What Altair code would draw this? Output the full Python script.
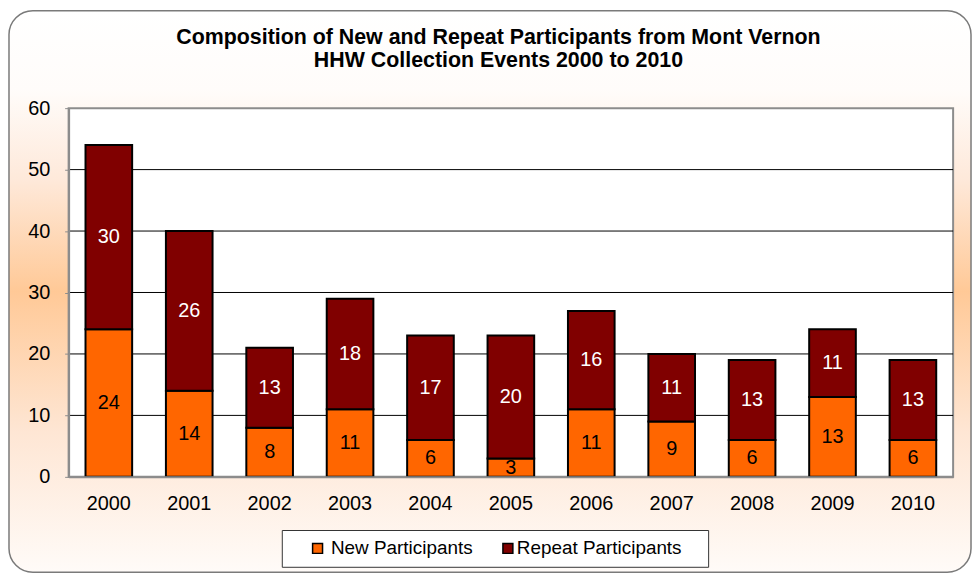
import altair as alt
import pandas as pd

years = ["2000", "2001", "2002", "2003", "2004", "2005", "2006", "2007", "2008", "2009", "2010"]
new_participants = [24, 14, 8, 11, 6, 3, 11, 9, 6, 13, 6]
repeat_participants = [30, 26, 13, 18, 17, 20, 16, 11, 13, 11, 13]
series_names = ["New Participants", "Repeat Participants"]
series_colors = ["#FF6600", "#800000"]
grid_values = [10, 20, 30, 40, 50]
y_ticks = [0, 10, 20, 30, 40, 50, 60]
title_lines = ["Composition of New and Repeat Participants from Mont Vernon",
               "HHW Collection Events 2000 to 2010"]

FONT = "Arial, Liberation Sans, sans-serif"
W, H = 890, 371

rows = []
for y, n, r in zip(years, new_participants, repeat_participants):
    rows.append({"year": y, "series": series_names[0], "value": n, "ord": 0, "mid": n / 2})
    rows.append({"year": y, "series": series_names[1], "value": r, "ord": 1, "mid": n + r / 2})
df = pd.DataFrame(rows)
one = pd.DataFrame({"a": [0]})
grid_df = pd.DataFrame({"g": grid_values})
legend_df = pd.DataFrame({"series": series_names})

yscale = alt.Scale(domain=[0, 60], nice=False)
xscale = alt.Scale(domain=years, paddingInner=0.42, paddingOuter=0.21)
cscale = alt.Scale(domain=series_names, range=series_colors)

y_axis = alt.Axis(
    title=None, values=y_ticks, grid=False, domain=True,
    domainColor="#8c8c8c", domainWidth=2, ticks=True, tickSize=4, tickColor="#8c8c8c",
    labelFont=FONT, labelFontSize=20, labelColor="black", labelPadding=15, zindex=1)
x_axis = alt.Axis(
    title=None, labelAngle=0, ticks=False, domain=True, domainColor="#8c8c8c",
    domainWidth=2, labelFont=FONT, labelFontSize=20, labelColor="black",
    labelPadding=17, grid=False, zindex=1)

background = alt.Chart(one).mark_rect(
    fill=alt.Gradient(
        gradient="linear", x1=0, x2=0, y1=0, y2=1,
        stops=[
            alt.GradientStop(offset=0, color="#FFFFFF"),
            alt.GradientStop(offset=0.14, color="#FFFCFA"),
            alt.GradientStop(offset=0.3, color="#FEE9DA"),
            alt.GradientStop(offset=0.5, color="#FFC997"),
            alt.GradientStop(offset=0.75, color="#FEE6D4"),
            alt.GradientStop(offset=1, color="#FFFBF8"),
        ],
    ),
    stroke="#7a7a7a", strokeWidth=1.5, cornerRadius=24,
).encode(x=alt.value(-60), x2=alt.value(908), y=alt.value(-98), y2=alt.value(467))

plot_bg = alt.Chart(one).mark_rect(fill="white", stroke="#8c8c8c", strokeWidth=2).encode(
    x=alt.value(0), x2=alt.value(W), y=alt.value(0), y2=alt.value(H)
)

grid = alt.Chart(grid_df).mark_rule(color="#000000", strokeWidth=1).encode(
    y=alt.Y("g:Q", scale=yscale, axis=y_axis), x=alt.value(0), x2=alt.value(W)
)

bars = alt.Chart(df).mark_bar(stroke="black", strokeWidth=2).encode(
    x=alt.X("year:N", scale=xscale, sort=years, axis=x_axis),
    y=alt.Y("value:Q", stack="zero", scale=yscale, axis=y_axis),
    color=alt.Color("series:N", scale=cscale, legend=None),
    order=alt.Order("ord:Q", sort="ascending"),
)

lab_new = alt.Chart(df).transform_filter(alt.datum.ord == 0).mark_text(
    font=FONT, fontSize=20, color="black", baseline="middle", align="center"
).encode(x=alt.X("year:N", scale=xscale, sort=years, axis=x_axis),
         y=alt.Y("mid:Q", scale=yscale, axis=y_axis), text="value:Q")

lab_rep = alt.Chart(df).transform_filter(alt.datum.ord == 1).mark_text(
    font=FONT, fontSize=20, color="white", baseline="middle", align="center"
).encode(x=alt.X("year:N", scale=xscale, sort=years, axis=x_axis),
         y=alt.Y("mid:Q", scale=yscale, axis=y_axis), text="value:Q")

legend_box = alt.Chart(one).mark_rect(fill="white", stroke="#333333", strokeWidth=1).encode(
    x=alt.value(215), x2=alt.value(644), y=alt.value(425), y2=alt.value(462)
)

leg_sq_new = alt.Chart(legend_df).transform_filter(alt.datum.series == series_names[0]).mark_square(
    size=100, stroke="black", strokeWidth=1.5, opacity=1
).encode(x=alt.value(250.5), y=alt.value(443), color=alt.Color("series:N", scale=cscale, legend=None))
leg_sq_rep = alt.Chart(legend_df).transform_filter(alt.datum.series == series_names[1]).mark_square(
    size=100, stroke="black", strokeWidth=1.5, opacity=1
).encode(x=alt.value(442), y=alt.value(443), color=alt.Color("series:N", scale=cscale, legend=None))

leg_txt_new = alt.Chart(legend_df).transform_filter(alt.datum.series == series_names[0]).mark_text(
    font=FONT, fontSize=19, color="black", align="left", baseline="middle"
).encode(x=alt.value(264), y=alt.value(443), text="series:N")
leg_txt_rep = alt.Chart(legend_df).transform_filter(alt.datum.series == series_names[1]).mark_text(
    font=FONT, fontSize=19, color="black", align="left", baseline="middle"
).encode(x=alt.value(451), y=alt.value(443), text="series:N")

title = alt.Chart(one).mark_text(
    text=title_lines, font=FONT, fontSize=21.5, fontWeight="bold", color="black",
    align="center", baseline="top", lineHeight=24
).encode(x=alt.value(432.5), y=alt.value(-82))

chart = alt.layer(
    background, plot_bg, grid, bars, lab_new, lab_rep,
    legend_box, leg_sq_new, leg_sq_rep, leg_txt_new, leg_txt_rep, title
).properties(
    width=W, height=H,
    autosize=alt.AutoSizeParams(type="none"),
    padding={"left": 61, "top": 99, "right": 19, "bottom": 98},
).configure_view(stroke=None).configure(background="white")

chart.save("out.html", embed_options={"renderer": "svg", "actions": False})
